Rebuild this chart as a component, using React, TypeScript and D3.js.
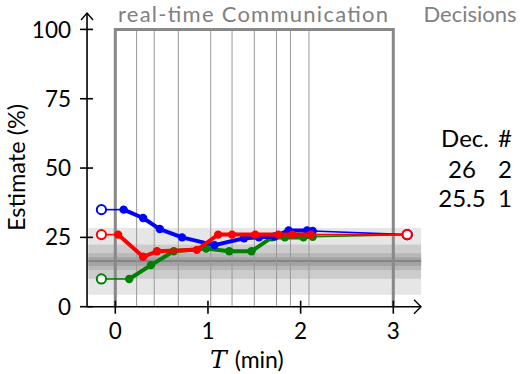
import React from "react";
import * as d3 from "d3";

const yTicks = [0, 25, 50, 75, 100];
const xTicks = [0, 1, 2, 3];
const messageTimes = [0.23, 0.42, 0.68, 1.03, 1.26, 1.5, 1.74, 1.89, 2.09];

const bandRanges: [number, number][] = [
  [4.3, 28.4],
  [10.1, 22.4],
  [13.2, 19.3],
  [14.7, 17.8],
];
const bandColors = ["#e6e6e6", "#cccccc", "#b8b8b8", "#a3a3a3"];
const medianValue = 16.5;

const startT = -0.15;
const endT = 3.15;

const blueTimes = [0.09, 0.3, 0.48, 0.72, 1.07, 1.39, 1.55, 1.72, 1.87, 2.07, 2.13];
const blueValues = [35, 32, 28, 25, 22.2, 24.7, 25, 25.3, 27.5, 27.5, 27.3];
const blueInitial = 35;
const blueFinal = 26;

const greenTimes = [0.15, 0.385, 0.63, 0.98, 1.23, 1.47, 1.69, 1.83, 2.03, 2.13];
const greenValues = [10, 15, 20, 21, 20, 20, 25, 25, 25, 25.2];
const greenInitial = 10;
const greenFinal = 26;

const redTimes = [0.03, 0.3, 0.45, 0.88, 1.11, 1.26, 1.51, 1.76, 1.91, 2.11];
const redValues = [26, 18, 20, 20.5, 26, 26, 26, 26, 26, 26];
const redInitial = 26;
const redFinal = 26;

const decisionValues = ["26", "25.5"];
const decisionCounts = ["2", "1"];

const series = [
  { color: "#008000", times: greenTimes, values: greenValues, initial: greenInitial, final: greenFinal },
  { color: "#0000ff", times: blueTimes, values: blueValues, initial: blueInitial, final: blueFinal },
  { color: "#ff0000", times: redTimes, values: redValues, initial: redInitial, final: redFinal },
];

const FONT = "Lato, 'Liberation Sans', sans-serif";

export default function App() {
  const x = d3.scaleLinear().domain([0, 3]).range([115.3, 393.3]);
  const y = d3.scaleLinear().domain([0, 100]).range([306.7, 29.4]);
  const axisX = x(-0.305);
  const bandX0 = x(-0.29);
  const bandX1 = x(3.3);
  const line = d3
    .line<[number, number]>()
    .x((d) => x(d[0]))
    .y((d) => y(d[1]));

  return (
    <svg
      width={529}
      height={374}
      style={{ position: "absolute", left: 0, top: 0, background: "#fff" }}
      fontFamily={FONT}
    >
      {/* bands */}
      {bandRanges.map((r, i) => (
        <rect
          key={i}
          x={bandX0}
          width={bandX1 - bandX0}
          y={y(r[1])}
          height={y(r[0]) - y(r[1])}
          fill={bandColors[i]}
        />
      ))}
      <line x1={bandX0} x2={bandX1} y1={y(medianValue)} y2={y(medianValue)} stroke="#858585" strokeWidth={2} />

      {/* message lines */}
      {messageTimes.map((t, i) => (
        <line key={i} x1={x(t)} x2={x(t)} y1={y(0)} y2={y(100)} stroke="#999" strokeWidth={1} />
      ))}

      {/* communication box */}
      <path
        d={`M${x(0)},${y(0)} L${x(0)},${y(100)} L${x(3)},${y(100)} L${x(3)},${y(0)}`}
        fill="none"
        stroke="#888"
        strokeWidth={3}
      />

      {/* series */}
      {series.map((s, si) => {
        const pts: [number, number][] = s.times.map((t, i) => [t, s.values[i]]);
        const first = pts[0];
        const last = pts[pts.length - 1];
        return (
          <g key={si}>
            <path d={line([[startT, s.initial], first]) || ""} stroke={s.color} strokeWidth={1.6} fill="none" />
            <path d={line([last, [endT, s.final]]) || ""} stroke={s.color} strokeWidth={1.6} fill="none" />
            <path d={line(pts) || ""} stroke={s.color} strokeWidth={4} fill="none" strokeLinejoin="round" />
            {pts.map((p, i) => (
              <circle key={i} cx={x(p[0])} cy={y(p[1])} r={4.2} fill={s.color} />
            ))}
            <circle cx={x(startT)} cy={y(s.initial)} r={4.6} fill="#fff" stroke={s.color} strokeWidth={2} />
            <circle cx={x(endT)} cy={y(s.final)} r={4.6} fill="#fff" stroke={s.color} strokeWidth={2} />
          </g>
        );
      })}

      {/* axes */}
      <line x1={axisX} x2={axisX} y1={y(0)} y2={13} stroke="#000" strokeWidth={1.6} />
      <path d={`M${axisX - 6},${20} L${axisX},${13} L${axisX + 6},${20}`} fill="none" stroke="#000" strokeWidth={1.4} />
      <line x1={axisX} x2={421} y1={y(0)} y2={y(0)} stroke="#000" strokeWidth={1.6} />
      <path d={`M${414},${y(0) - 7} L${421},${y(0)} L${414},${y(0) + 7}`} fill="none" stroke="#000" strokeWidth={1.4} />

      {yTicks.map((v) => (
        <g key={v}>
          <line x1={axisX - 7} x2={axisX + 6} y1={y(v)} y2={y(v)} stroke="#000" strokeWidth={1.6} />
          <text x={71} y={y(v)} dy="0.36em" textAnchor="end" fontSize={22.5} fill="#000">
            {v}
          </text>
        </g>
      ))}
      {xTicks.map((t) => (
        <g key={t}>
          <line x1={x(t)} x2={x(t)} y1={y(0) - 6} y2={y(0) + 7} stroke="#000" strokeWidth={1.6} />
          <text x={x(t)} y={338.5} textAnchor="middle" fontSize={22.5} fill="#000">
            {t}
          </text>
        </g>
      ))}

      {/* axis labels */}
      <text x={210} y={368} textAnchor="start" fontSize={23} fill="#000">
        <tspan fontFamily="'DejaVu Serif', serif" fontStyle="italic" fontSize={25}>T</tspan>
        <tspan dx={8}>(min)</tspan>
      </text>
      <text
        transform={`translate(25,167.5) rotate(-90)`}
        textAnchor="middle"
        fontSize={23.5}
        fill="#000"
      >
        Estimate (%)
      </text>

      {/* headers */}
      <text x={253} y={22} textAnchor="middle" fontSize={22} fill="#808080" textLength={270} lengthAdjust="spacing">
        real-time Communication
      </text>
      <text x={470} y={22} textAnchor="middle" fontSize={22} fill="#808080">
        Decisions
      </text>

      {/* decision table */}
      <text x={465} y={146.7} textAnchor="middle" fontSize={24} fill="#000">
        Dec.
      </text>
      <text x={505} y={146.7} textAnchor="middle" fontSize={24} fill="#000">
        #
      </text>
      {decisionValues.map((d, i) => (
        <g key={i}>
          <text x={462} y={178 + i * 28.5} textAnchor="middle" fontSize={24} fill="#000">
            {d}
          </text>
          <text x={505} y={178 + i * 28.5} textAnchor="middle" fontSize={24} fill="#000">
            {decisionCounts[i]}
          </text>
        </g>
      ))}
    </svg>
  );
}
